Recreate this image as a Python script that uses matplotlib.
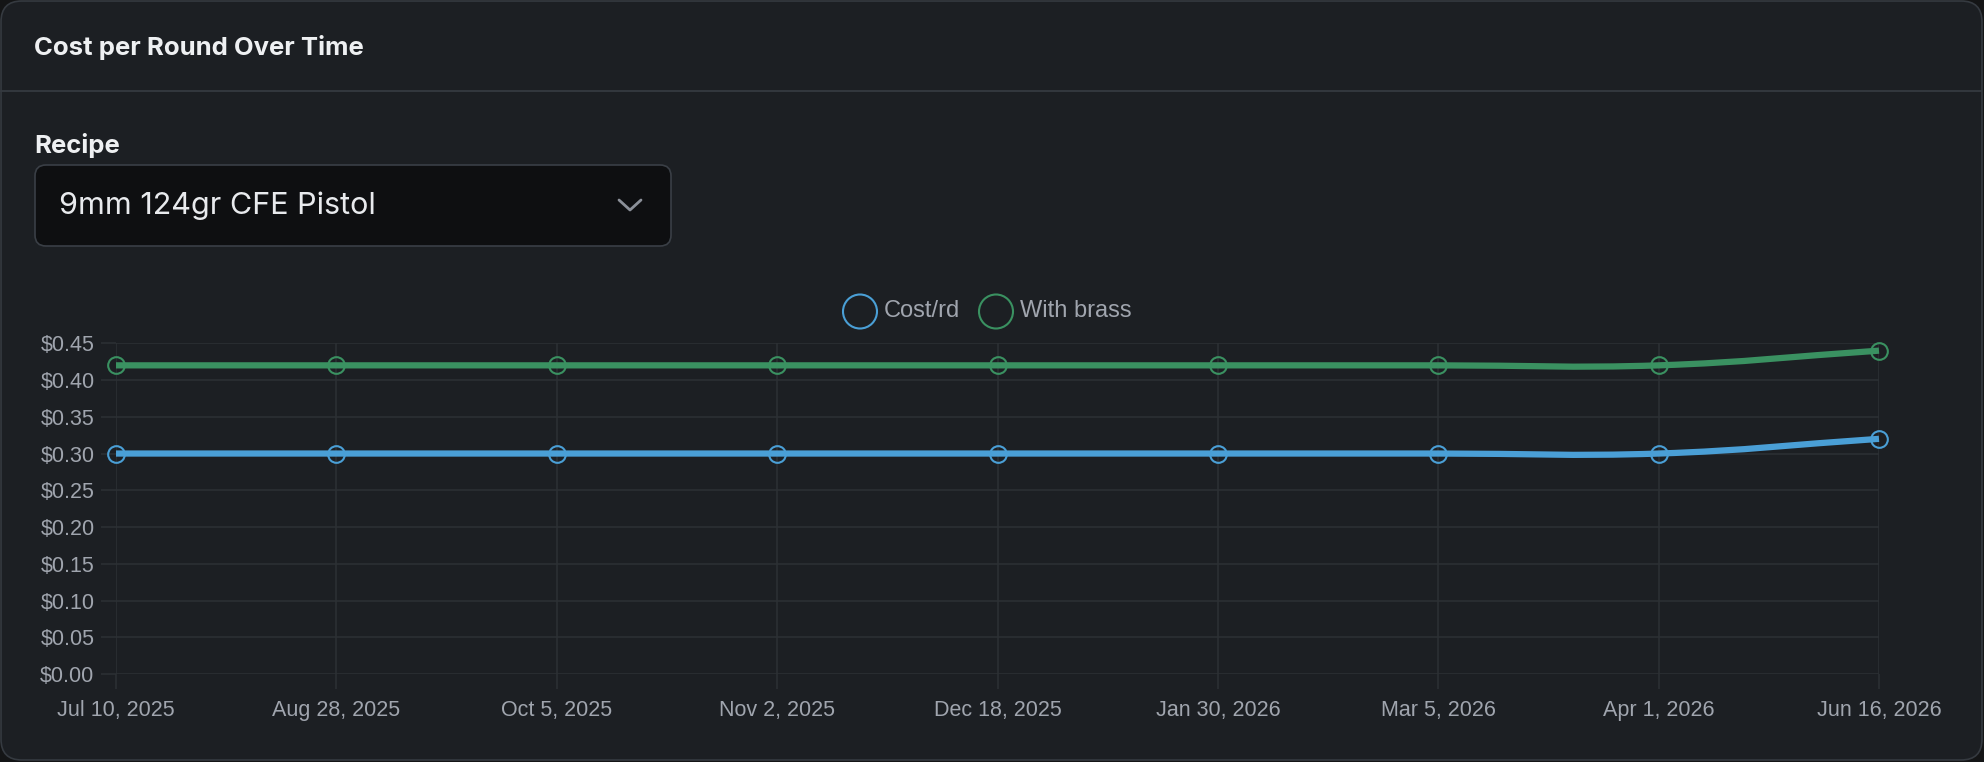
import matplotlib
matplotlib.use("Agg")
import matplotlib.pyplot as plt
import numpy as np
from matplotlib.patches import FancyBboxPatch, Ellipse, PathPatch
from matplotlib.path import Path
from matplotlib.lines import Line2D
from matplotlib.ticker import FuncFormatter

# data
dates = ["Jul 10, 2025", "Aug 28, 2025", "Oct 5, 2025", "Nov 2, 2025", "Dec 18, 2025",
         "Jan 30, 2026", "Mar 5, 2026", "Apr 1, 2026", "Jun 16, 2026"]
cost_rd = [0.30, 0.30, 0.30, 0.30, 0.30, 0.30, 0.30, 0.30, 0.32]
with_brass = [0.42, 0.42, 0.42, 0.42, 0.42, 0.42, 0.42, 0.42, 0.44]
series_names = ["Cost/rd", "With brass"]

BLUE = "#4a9fd6"
GREEN = "#3a9161"
CARD = "#1c1f23"
EDGE = "#353a40"
GRID = "#2c3035"
TICK_TXT = "#a0a5ae"
HEAD_FONT = ["Inter", "DejaVu Sans"]

W, H = 1984, 762
fig = plt.figure(figsize=(W / 100, H / 100), dpi=100)
fig.patch.set_facecolor("#141516")


def fx(px):
    return px / W


def fy(py):
    return 1 - py / H


# card + header
card = FancyBboxPatch((fx(1), fy(760)), fx(1981), 759 / H,
                      boxstyle="round,pad=0,rounding_size=0.0105",
                      transform=fig.transFigure, facecolor=CARD, edgecolor=EDGE,
                      lw=1.2, mutation_aspect=W / H, zorder=-10)
fig.patches.append(card)
fig.add_artist(Line2D([fx(1), fx(1981)], [fy(91), fy(91)], color=EDGE, lw=1.3,
                      transform=fig.transFigure, zorder=-9))
fig.text(fx(34), fy(47), "Cost per Round Over Time", fontsize=18.5, fontweight="bold",
         family=HEAD_FONT, color="#eef0f2", va="center", ha="left")
fig.text(fx(34), fy(146), "Recipe", fontsize=18.5, fontweight="bold",
         family=HEAD_FONT, color="#eef0f2", va="center", ha="left")

# recipe select box
sel = FancyBboxPatch((fx(35), fy(246)), fx(636), 81 / H,
                     boxstyle="round,pad=0,rounding_size=0.0055",
                     transform=fig.transFigure, facecolor="#0e0f11", edgecolor="#3a3f46",
                     lw=1.2, mutation_aspect=W / H, zorder=-9)
fig.patches.append(sel)
fig.text(fx(59), fy(206), "9mm 124gr CFE Pistol", fontsize=22,
         family=HEAD_FONT, color="#e8eaed", va="center", ha="left")
fig.add_artist(Line2D([fx(619), fx(630), fx(641)], [fy(200), fy(210), fy(200)],
                      color="#8b9099", lw=2, transform=fig.transFigure,
                      solid_capstyle="round", solid_joinstyle="round"))

# legend
for cx, tx, name, col in [(860, 884, series_names[0], BLUE), (996, 1020, series_names[1], GREEN)]:
    fig.patches.append(Ellipse((fx(cx), fy(311.5)), 34 / W, 34 / H, transform=fig.transFigure,
                               facecolor="none", edgecolor=col, lw=1.5))
    fig.text(fx(tx), fy(311), name, fontsize=17, family="Liberation Sans",
             color=TICK_TXT, va="center", ha="left")

# plot area
left, right, top, bottom = 116, 1879, 343.3, 674
ax = fig.add_axes([fx(left), fy(bottom), fx(right - left), (bottom - top) / H])
ax.set_facecolor("none")
ax.set_xlim(0, len(dates) - 1)
ax.set_ylim(0, 0.45)
for s in ax.spines.values():
    s.set_visible(False)
ax.set_xticks(np.arange(len(dates)))
ax.set_xticklabels(dates)
ax.set_yticks(np.arange(0, 0.451, 0.05))
ax.yaxis.set_major_formatter(FuncFormatter(lambda v, _: f"${v:.2f}"))
ax.grid(True, color=GRID, lw=1.1)
ax.set_axisbelow(True)
ax.tick_params(axis="both", colors=GRID, width=1.1, length=11, labelsize=15.5,
               labelcolor=TICK_TXT)
ax.tick_params(axis="x", pad=8)
ax.tick_params(axis="y", pad=4.5)
for lab in ax.get_xticklabels() + ax.get_yticklabels():
    lab.set_family("Liberation Sans")

# pixel scale used for the chart.js-style spline (tension 0.4)
sx = (right - left) / (len(dates) - 1)
sy = (bottom - top) / 0.45


def spline_path(xs, ys, t=0.4):
    n = len(xs)
    pts = np.column_stack([xs, ys]).astype(float)
    cp_prev = pts.copy()
    cp_next = pts.copy()
    for i in range(n):
        p = pts[max(i - 1, 0)]
        c = pts[i]
        q = pts[min(i + 1, n - 1)]
        d01 = np.hypot((c[0] - p[0]) * sx, (c[1] - p[1]) * sy)
        d12 = np.hypot((q[0] - c[0]) * sx, (q[1] - c[1]) * sy)
        tot = d01 + d12
        s01 = d01 / tot if tot else 0
        s12 = d12 / tot if tot else 0
        cp_prev[i] = c - t * s01 * (q - p)
        cp_next[i] = c + t * s12 * (q - p)
    verts = [pts[0]]
    codes = [Path.MOVETO]
    for i in range(1, n):
        verts += [cp_next[i - 1], cp_prev[i], pts[i]]
        codes += [Path.CURVE4] * 3
    return Path(verts, codes)


x = np.arange(len(dates))
for vals, col in [(with_brass, GREEN), (cost_rd, BLUE)]:
    ax.add_patch(PathPatch(spline_path(x, vals), facecolor="none", edgecolor=col,
                           lw=4.5, capstyle="butt", clip_on=False, zorder=3))
    ax.plot(x, vals, "o", mfc="none", mec=col, ms=12, mew=1.5, clip_on=False, zorder=4)

fig.savefig("out.png", dpi=100, facecolor=fig.get_facecolor())
